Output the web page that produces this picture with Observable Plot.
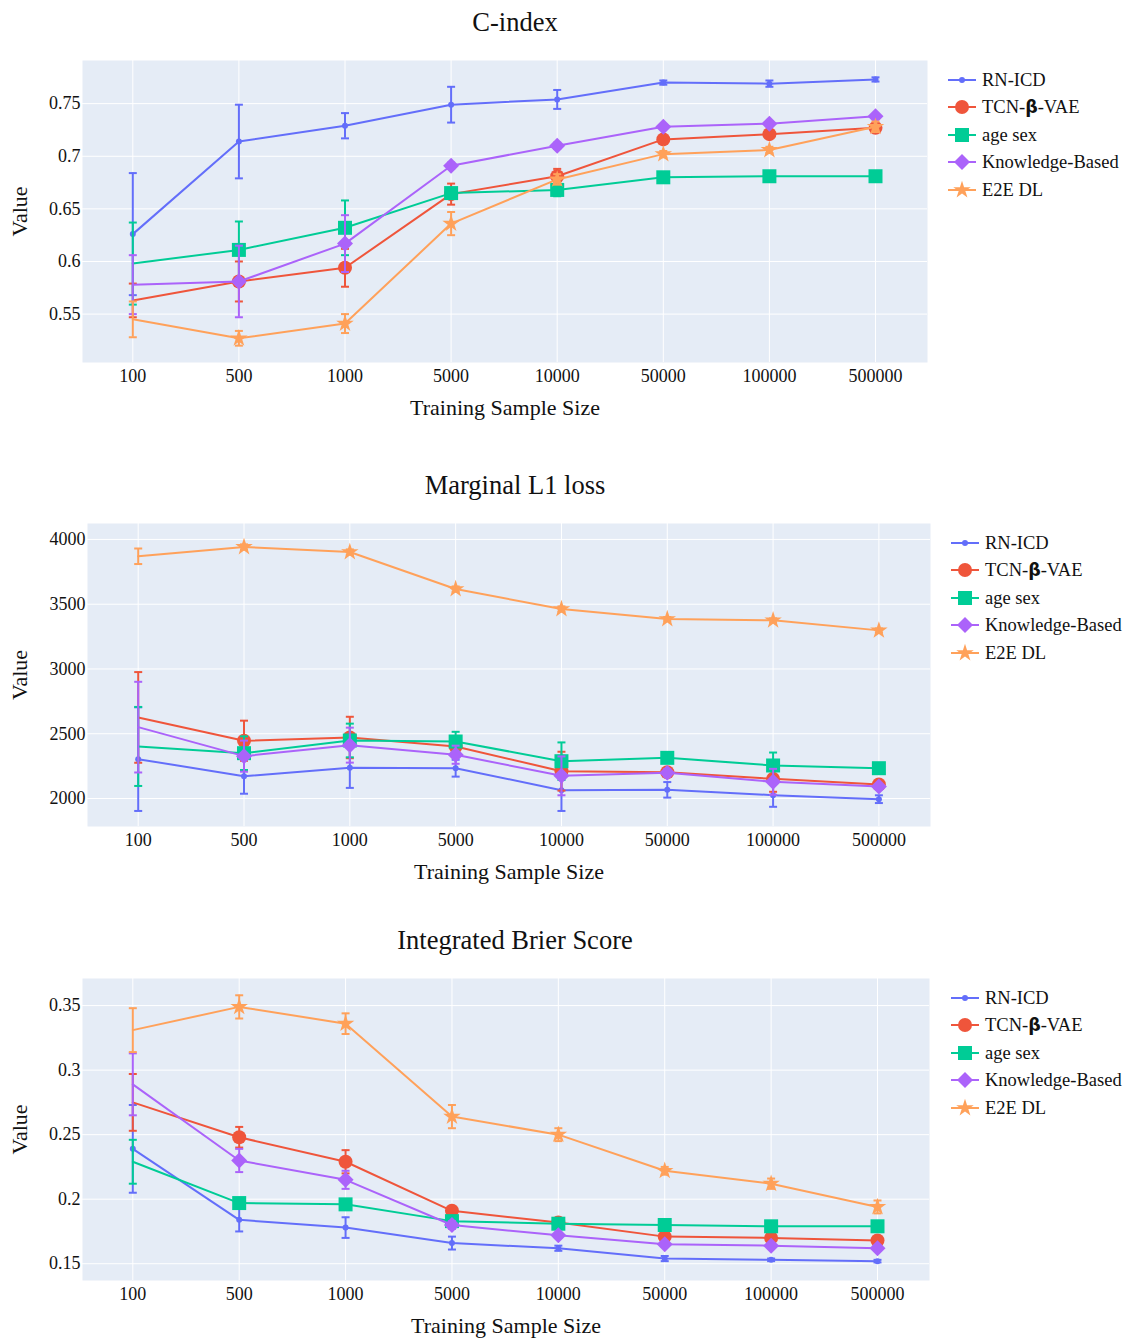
<!DOCTYPE html>
<html><head><meta charset="utf-8">
<script src="https://cdn.jsdelivr.net/npm/d3@7"></script>
<script src="https://cdn.jsdelivr.net/npm/@observablehq/plot@0.6"></script>
<style>
body{margin:0;background:#fff;font-family:"Liberation Serif",serif;color:#111;}
#root{position:relative;width:1126px;height:1338px;overflow:hidden;}
.title{position:absolute;left:0;width:1030px;text-align:center;font-size:26.5px;line-height:26px;white-space:nowrap;}
.legend{position:absolute;font-size:18.5px;line-height:18px;}
.legend .item{display:flex;align-items:center;height:27.5px;white-space:nowrap;}
.legend svg{display:block;margin-right:6px;}
.panel{position:absolute;left:0;}
</style></head><body><div id="root"></div>
<script>
const sampleSizes = ["100","500","1000","5000","10000","50000","100000","500000"];
const methods = ["RN-ICD","TCN-β-VAE","age sex","Knowledge-Based","E2E DL"];

// C-index
const cIndexRN      = [0.626,0.714,0.729,0.749,0.754,0.770,0.769,0.773];
const cIndexRNErr   = [0.058,0.035,0.012,0.017,0.009,0.002,0.003,0.002];
const cIndexTCN     = [0.563,0.581,0.594,0.664,0.681,0.716,0.721,0.727];
const cIndexTCNErr  = [0.016,0.019,0.018,0.010,0.007,0.003,0.003,0.003];
const cIndexAge     = [0.598,0.611,0.632,0.665,0.668,0.680,0.681,0.681];
const cIndexAgeErr  = [0.039,0.027,0.026,0.005,0.006,0.002,0.002,0.002];
const cIndexKB      = [0.578,0.581,0.617,0.691,0.710,0.728,0.731,0.738];
const cIndexKBErr   = [0.028,0.034,0.027,0.003,0.003,0.002,0.002,0.002];
const cIndexE2E     = [0.545,0.527,0.541,0.636,0.678,0.702,0.706,0.728];
const cIndexE2EErr  = [0.017,0.007,0.009,0.011,0.005,0.003,0.003,0.005];
const cIndexTicks   = [0.55,0.6,0.65,0.7,0.75];

// Marginal L1 loss
const l1RN      = [2304,2172,2237,2234,2064,2067,2026,1995];
const l1RNErr   = [400,135,155,65,160,60,90,30];
const l1TCN     = [2626,2446,2471,2402,2211,2203,2152,2108];
const l1TCNErr  = [350,155,160,50,150,30,100,20];
const l1Age     = [2402,2350,2448,2440,2288,2314,2255,2234];
const l1AgeErr  = [305,130,130,75,145,30,100,20];
const l1KB      = [2551,2327,2412,2338,2175,2198,2129,2093];
const l1KBErr   = [350,120,135,70,150,30,100,20];
const l1E2E     = [3870,3942,3903,3617,3463,3386,3376,3298];
const l1E2EErr  = [60,20,20,20,20,15,15,15];
const l1Ticks   = [2000,2500,3000,3500,4000];

// Integrated Brier Score
const ibsRN      = [0.239,0.184,0.178,0.166,0.162,0.154,0.153,0.152];
const ibsRNErr   = [0.034,0.009,0.008,0.005,0.002,0.002,0.001,0.001];
const ibsTCN     = [0.275,0.248,0.229,0.191,0.182,0.171,0.170,0.168];
const ibsTCNErr  = [0.022,0.008,0.009,0.003,0.002,0.002,0.002,0.002];
const ibsAge     = [0.229,0.197,0.196,0.183,0.181,0.180,0.179,0.179];
const ibsAgeErr  = [0.017,0.003,0.002,0.002,0.002,0.002,0.002,0.002];
const ibsKB      = [0.289,0.230,0.215,0.180,0.172,0.165,0.164,0.162];
const ibsKBErr   = [0.024,0.009,0.007,0.003,0.002,0.002,0.002,0.002];
const ibsE2E     = [0.331,0.349,0.336,0.264,0.250,0.222,0.212,0.194];
const ibsE2EErr  = [0.017,0.009,0.008,0.009,0.005,0.003,0.004,0.005];
const ibsTicks   = [0.15,0.2,0.25,0.3,0.35];

// styles
const colors  = ["#636EFA","#EF553B","#00CC96","#AB63FA","#FFA15A"];
const symbols = ["circle","circle","square","diamond2","star"];
const radii   = [3,7,7.9,7.2,5.5];
// in the reference, only RN-ICD shows a marker at the first sample size
const firstMarkerShown = [true,false,false,false,false];

const capSymbol = {
  draw(ctx, size) {
    const r = Math.sqrt(size / Math.PI);
    ctx.moveTo(-r, 0); ctx.lineTo(r, 0);
  }
};

const root = document.getElementById("root");

function addPanel(cfg) {
  const {title, titleTop, svgTop, height, left, right, bottom, xRange, yDomain, yTicks, series, errors, legendTop, legendLeft, xLabelOffset, yLabelOffset} = cfg;
  const marks = [
    Plot.frame({fill: "#E5ECF6", stroke: null}),
    Plot.gridX(sampleSizes, {stroke: "#fff", strokeOpacity: 1, strokeWidth: 1}),
    Plot.gridY(yTicks, {stroke: "#fff", strokeOpacity: 1, strokeWidth: 1}),
    Plot.axisX({tickSize: 0, tickPadding: 7, fontSize: 18, label: null}),
    Plot.axisX({ticks: [], tickSize: 0, label: "Training Sample Size", labelAnchor: "center", labelArrow: "none", labelOffset: xLabelOffset, fontSize: 22}),
    Plot.axisY({ticks: yTicks, tickSize: 0, tickPadding: 2, fontSize: 18, label: null, tickFormat: d => String(+d.toFixed(3))}),
    Plot.axisY({ticks: [], tickSize: 0, label: "Value", labelAnchor: "center", labelArrow: "none", labelOffset: yLabelOffset, fontSize: 22})
  ];
  methods.forEach((m, i) => {
    const rows = sampleSizes.map((s, j) => ({method: m, size: s, idx: j, value: series[i][j], err: errors[i][j]}));
    const shown = rows.filter(d => d.idx > 0 || firstMarkerShown[i]);
    marks.push(
      Plot.line(rows, {x: "size", y: "value", stroke: colors[i], strokeWidth: 2}),
      Plot.ruleX(rows, {x: "size", y1: d => d.value - d.err, y2: d => d.value + d.err, stroke: colors[i], strokeWidth: 2}),
      Plot.dot(rows, {x: "size", y: d => d.value - d.err, symbol: capSymbol, r: 4, fill: "none", stroke: colors[i], strokeWidth: 2}),
      Plot.dot(rows, {x: "size", y: d => d.value + d.err, symbol: capSymbol, r: 4, fill: "none", stroke: colors[i], strokeWidth: 2}),
      Plot.dot(shown, {x: "size", y: "value", symbol: symbols[i], r: radii[i], fill: colors[i], stroke: "none"})
    );
  });
  const svg = Plot.plot({
    width: 1126, height,
    marginLeft: left, marginRight: 1126 - right, marginTop: 10, marginBottom: bottom,
    x: {type: "point", domain: sampleSizes, range: xRange, padding: 0, round: false},
    y: {domain: yDomain},
    style: {fontFamily: "'Liberation Serif', serif", color: "#111", background: "transparent", overflow: "visible"},
    marks
  });
  const wrap = document.createElement("div");
  wrap.className = "panel";
  wrap.style.top = svgTop + "px";
  wrap.appendChild(svg);
  root.appendChild(wrap);

  const t = document.createElement("div");
  t.className = "title";
  t.style.top = titleTop + "px";
  t.textContent = title;
  root.appendChild(t);

  const leg = document.createElement("div");
  leg.className = "legend";
  leg.style.left = legendLeft + "px";
  leg.style.top = legendTop + "px";
  methods.forEach((m, i) => {
    const item = document.createElement("div");
    item.className = "item";
    const type = symbols[i] === "diamond2" ? d3.symbolDiamond2 : symbols[i] === "square" ? d3.symbolSquare : symbols[i] === "star" ? d3.symbolStar : d3.symbolCircle;
    const sym = d3.symbol(type, Math.PI * radii[i] * radii[i])();
    item.innerHTML = `<svg width="28" height="20" viewBox="0 0 28 20"><line x1="0" x2="28" y1="10" y2="10" stroke="${colors[i]}" stroke-width="2"/><path d="${sym}" transform="translate(14,10)" fill="${colors[i]}"/></svg>`;
    const label = document.createElement("span");
    if (m === "TCN-β-VAE") {
      label.innerHTML = 'TCN-<b style="font-family:\'DejaVu Sans\',sans-serif;font-weight:bold;font-size:17.5px">β</b>-VAE';
    } else label.textContent = m;
    item.appendChild(label);
    leg.appendChild(item);
  });
  root.appendChild(leg);
}

addPanel({
  title: "C-index", titleTop: 9, svgTop: 50, height: 380, left: 82, right: 927, bottom: 68,
  xRange: [132.3, 875],
  yDomain: [0.504, 0.791], yTicks: cIndexTicks,
  series: [cIndexRN, cIndexTCN, cIndexAge, cIndexKB, cIndexE2E],
  errors: [cIndexRNErr, cIndexTCNErr, cIndexAgeErr, cIndexKBErr, cIndexE2EErr],
  legendLeft: 948, legendTop: 66, xLabelOffset: 52, yLabelOffset: 71
});
addPanel({
  title: "Marginal L1 loss", titleTop: 472, svgTop: 513, height: 380, left: 87, right: 930, bottom: 67,
  xRange: [137.7, 878.4],
  yDomain: [1784, 4123], yTicks: l1Ticks,
  series: [l1RN, l1TCN, l1Age, l1KB, l1E2E],
  errors: [l1RNErr, l1TCNErr, l1AgeErr, l1KBErr, l1E2EErr],
  legendLeft: 951, legendTop: 529, xLabelOffset: 52, yLabelOffset: 76
});
addPanel({
  title: "Integrated Brier Score", titleTop: 927, svgTop: 968, height: 370, left: 82, right: 929, bottom: 58,
  xRange: [132.3, 877],
  yDomain: [0.137, 0.371], yTicks: ibsTicks,
  series: [ibsRN, ibsTCN, ibsAge, ibsKB, ibsE2E],
  errors: [ibsRNErr, ibsTCNErr, ibsAgeErr, ibsKBErr, ibsE2EErr],
  legendLeft: 951, legendTop: 984, xLabelOffset: 52, yLabelOffset: 71
});
</script></body></html>
